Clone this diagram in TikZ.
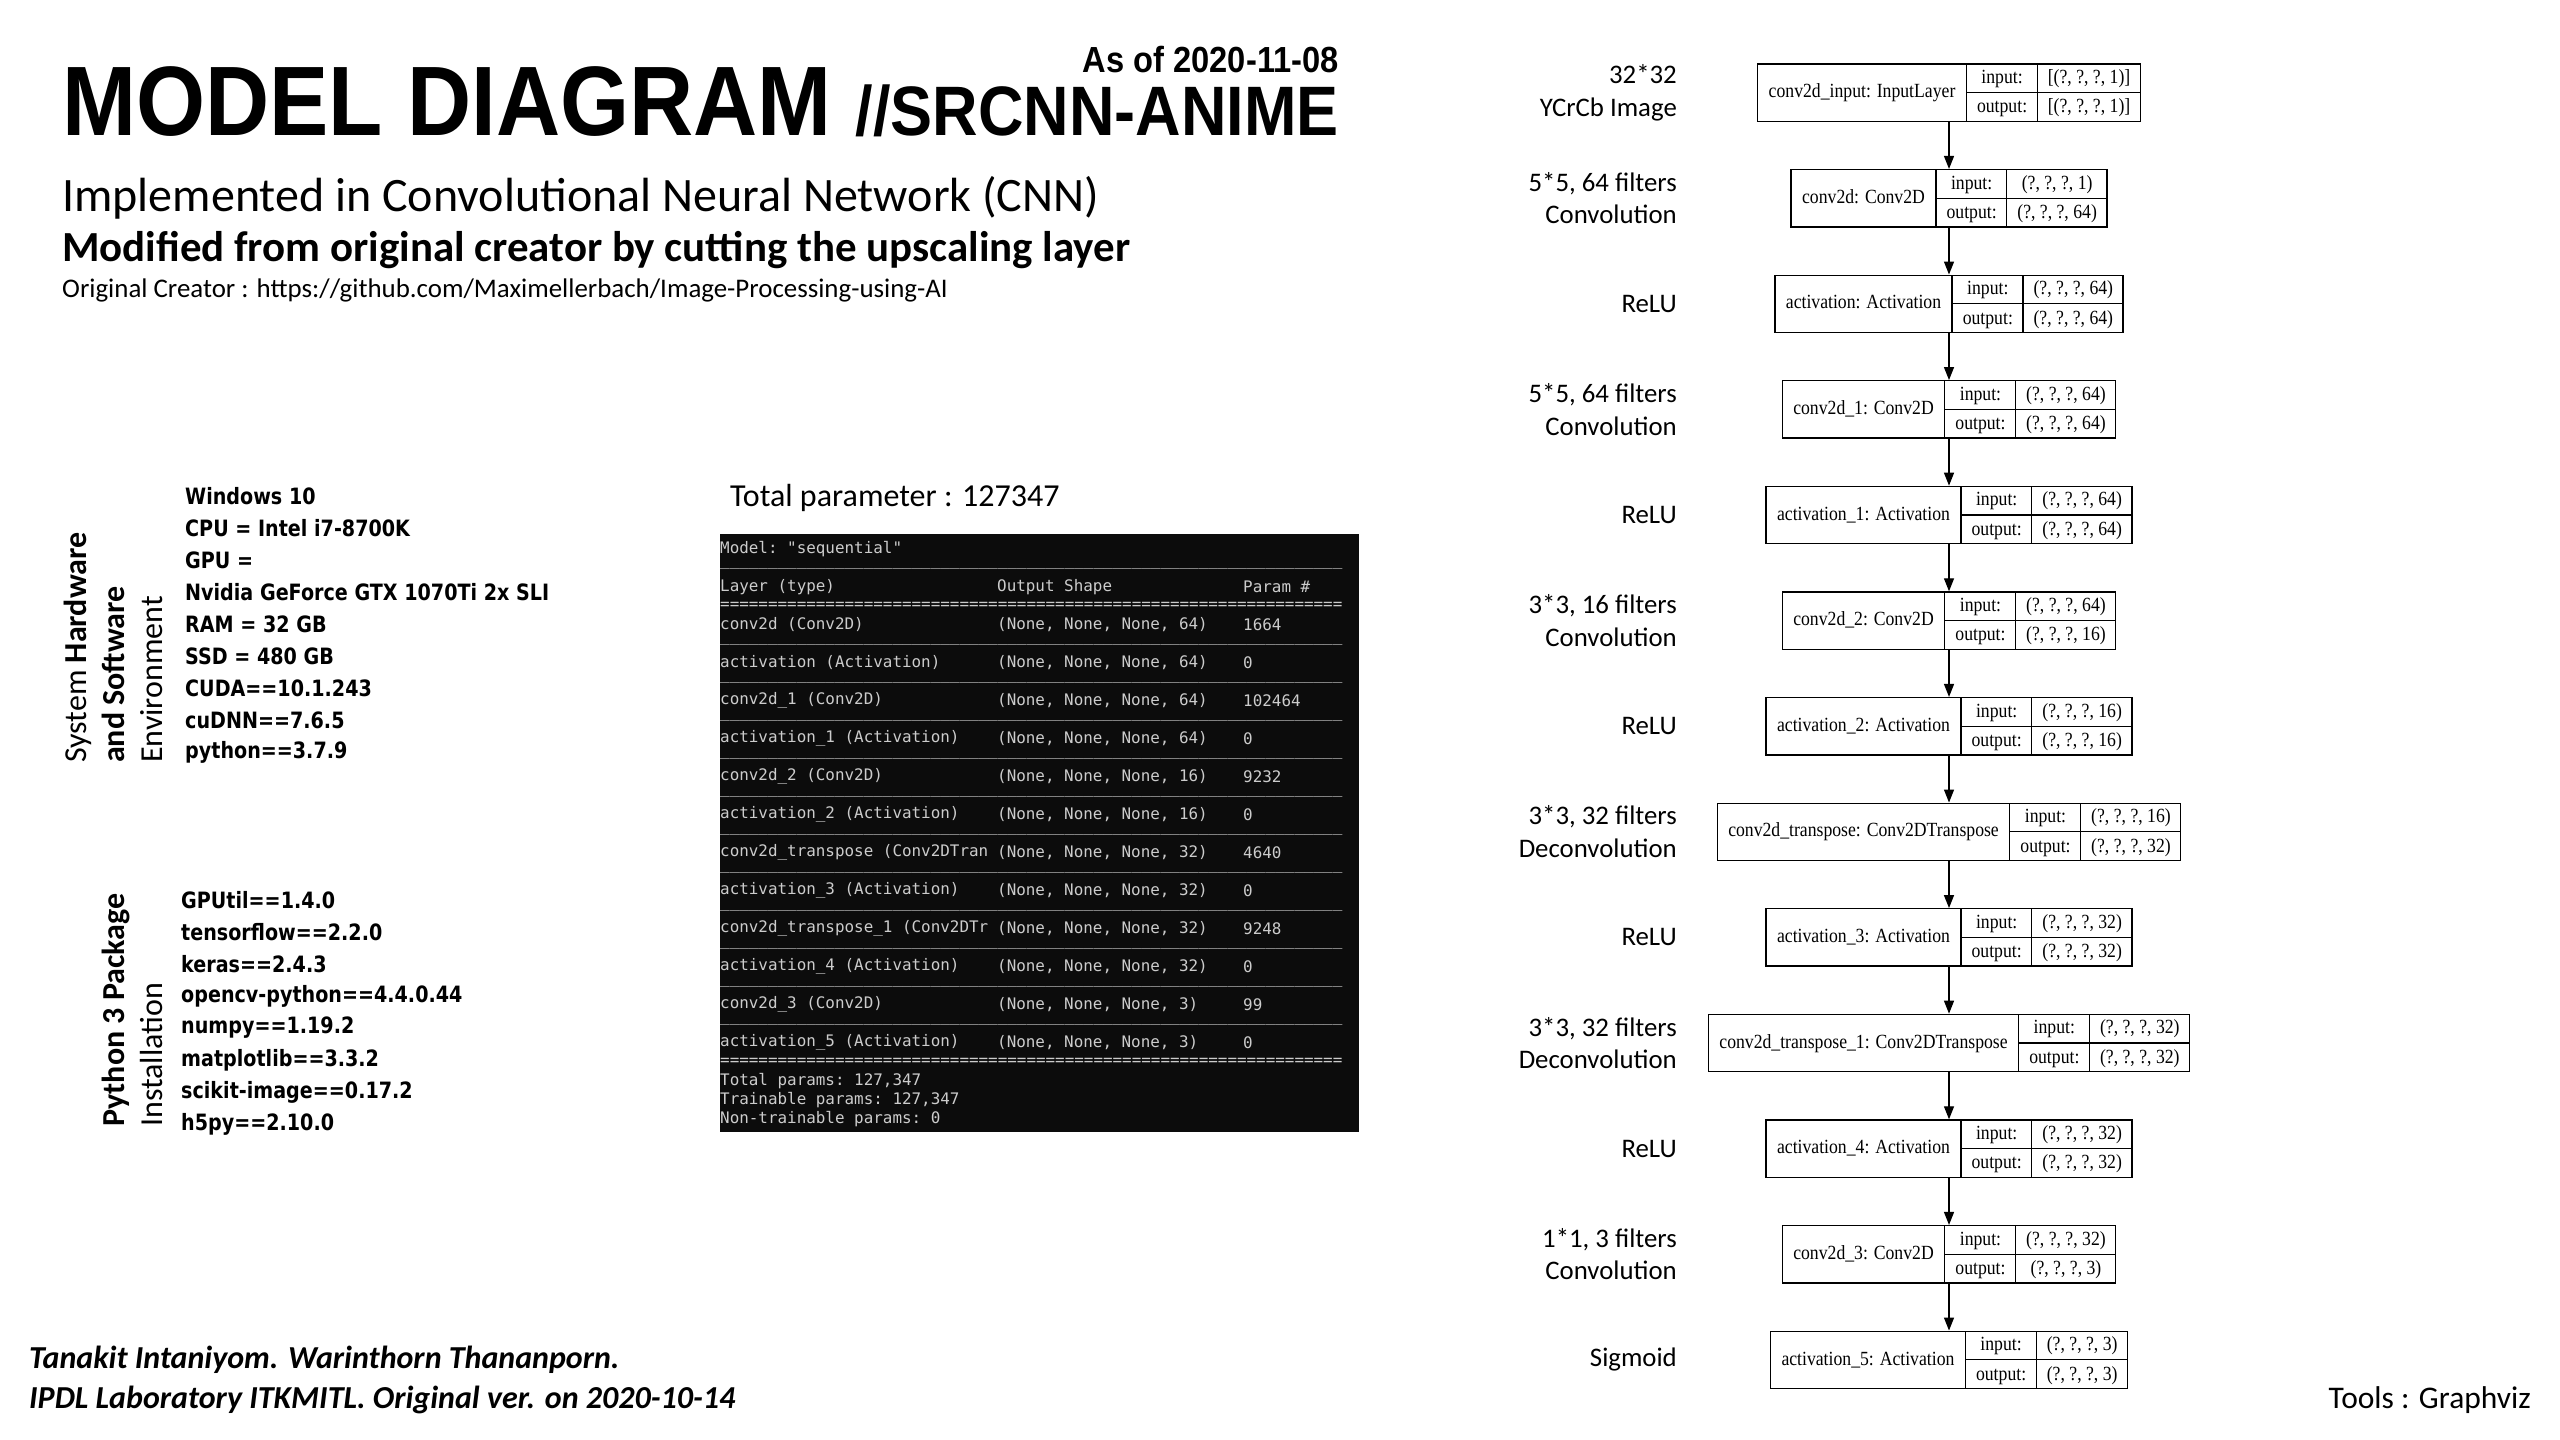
\documentclass[tikz,border=0pt]{standalone}
\usepackage{fontspec}
\setmainfont{Carlito}
\setmonofont{DejaVu Sans Mono}
\newfontfamily\titlefont[FakeStretch=0.9]{Liberation Sans}
\newfontfamily\listfont[FakeStretch=0.85]{DejaVu Sans}
\newfontfamily\graphfont[FakeStretch=0.88]{Liberation Serif}
\usetikzlibrary{arrows.meta,positioning}
\definecolor{termbg}{RGB}{12,12,12}
\definecolor{termfg}{RGB}{204,204,204}

% record-like box of a graphviz layer: label | input/output | shapes
\newcommand\layerrec[3]{%
  \setlength\tabcolsep{0pt}\setlength\arrayrulewidth{1.3pt}%
  \begin{tabular}{@{\hspace{11pt}}c@{\hspace{11pt}}|@{}c@{}}
    #1 & \begin{tabular}{@{\hspace{10pt}}c@{\hspace{10pt}}|@{\hspace{10pt}}c@{\hspace{10pt}}}
      input: & #2\\\hline
      output: & #3
    \end{tabular}
  \end{tabular}}
\newcommand\dashrow[1]{\foreach\n in {1,...,65}{#1}}

\begin{document}
\begin{tikzpicture}[x=1pt, y=-1pt, node distance=47pt,
    layerbox/.style={draw, line width=1.3pt, inner sep=0pt,
      font=\graphfont\fontsize{20.1}{28}\selectfont},
    flowarrow/.style={-{Triangle[length=13pt,width=10pt]}, line width=1.3pt},
    steplabel/.style={anchor=east, align=right, inner sep=0pt,
      font=\fontsize{26.8}{32.7}\selectfont},
    spec/.style={anchor=west, inner sep=0pt,
      font=\listfont\bfseries\fontsize{22.5}{32}\selectfont},
    termline/.style={anchor=west, inner sep=0pt, text=termfg,
      font=\ttfamily\fontsize{15.9}{19}\selectfont},
    sidehead/.style={rotate=90, anchor=west, align=left, inner sep=0pt,
      font=\fontsize{32}{38}\selectfont}]
  \useasboundingbox (0,0) rectangle (2560,1440);

  % heading
  \node[anchor=base west, inner sep=0pt, font=\titlefont\bfseries\fontsize{98.7}{100}\selectfont] (title) at (62,135) {MODEL DIAGRAM};
  \node[anchor=base east, inner sep=0pt, font=\titlefont\bfseries\fontsize{70}{72}\selectfont] (project) at (1339,135) {//SRCNN-ANIME};
  \node[anchor=base east, inner sep=0pt, font=\titlefont\bfseries\fontsize{36.3}{38}\selectfont] (asof) at (1339,72) {As of 2020-11-08};
  \node[anchor=base west, inner sep=0pt, font=\fontsize{48}{58}\selectfont] (impl) at (62,211) {Implemented in Convolutional Neural Network (CNN)};
  \node[anchor=base west, inner sep=0pt, font=\bfseries\fontsize{42.9}{50}\selectfont] (modif) at (62,261) {Modified from original creator by cutting the upscaling layer};
  \node[anchor=base west, inner sep=0pt, font=\fontsize{26.9}{30}\selectfont] (orig) at (62,297) {Original Creator : https://github.com/Maximellerbach/Image-Processing-using-AI};

  % environment
  \node[sidehead] (hwhead) at (113.5,763) {System \textbf{Hardware}\\\textbf{and Software}\\Environment};
  \foreach \s [count=\i from 0] in {Windows 10, CPU = Intel i7-8700K, GPU =, Nvidia GeForce GTX 1070Ti 2x SLI, RAM = 32 GB, SSD = 480 GB, CUDA==10.1.243, cuDNN==7.6.5, python==3.7.9}
    \node[spec] (hw-\i) at (185, {496+32*\i}) {\s};
  \node[sidehead] (pyhead) at (132.5,1127) {\textbf{Python 3 Package}\\Installation};
  \foreach \s [count=\i from 0] in {GPUtil==1.4.0, tensorflow==2.2.0, keras==2.4.3, opencv-python==4.4.0.44, numpy==1.19.2, matplotlib==3.3.2, scikit-image==0.17.2, h5py==2.10.0}
    \node[spec] (py-\i) at (181, {900+32*\i}) {\s};

  % model summary
  \node[anchor=west, inner sep=0pt, font=\fontsize{32}{38}\selectfont] (total) at (730,498) {Total parameter : 127347};
  \fill[termbg] (720,534) rectangle (1359,1132);
  \node[termline] (model) at (720,548.7) {Model: "sequential"};
  \node[termline] (rule-top) at (720,567.7) {\dashrow{\_}};
  \node[termline] (head-layer) at (720,586.7) {Layer (type)};
  \node[termline] (head-shape) at (997,586.7) {Output Shape};
  \node[termline] (head-param) at (1243,586.7) {Param \#};
  \node[termline] (rule-head) at (720,605.7) {\dashrow{=}};
  \foreach \lname/\lch/\lpar [count=\k from 0] in {conv2d (Conv2D)/64/1664, activation (Activation)/64/0, conv2d\_1 (Conv2D)/64/102464, activation\_1 (Activation)/64/0, conv2d\_2 (Conv2D)/16/9232, activation\_2 (Activation)/16/0, conv2d\_transpose (Conv2DTran/32/4640, activation\_3 (Activation)/32/0, conv2d\_transpose\_1 (Conv2DTr/32/9248, activation\_4 (Activation)/32/0, conv2d\_3 (Conv2D)/3/99, activation\_5 (Activation)/3/0}
  {
    \node[termline] (row-\k) at (720, {548.7+19*(4+2*\k)}) {\lname};
    \node[termline] (shape-\k) at (997, {548.7+19*(4+2*\k)}) {(None, None, None, \lch)};
    \node[termline] (par-\k) at (1243, {548.7+19*(4+2*\k)}) {\lpar};
  }
  \foreach \k in {0,...,10}
    \node[termline] (sep-\k) at (720, {548.7+19*(5+2*\k)}) {\dashrow{\_}};
  \node[termline] (rule-end) at (720,1061.7) {\dashrow{=}};
  \node[termline] (sum-total) at (720,1080.7) {Total params: 127,347};
  \node[termline] (sum-train) at (720,1099.7) {Trainable params: 127,347};
  \node[termline] (sum-fixed) at (720,1118.7) {Non-trainable params: 0};

  % graphviz plot of the layers
  \node[layerbox] (inp) at (1949,92.6) {\layerrec{conv2d\_input: InputLayer}{[(?, ?, ?, 1)]}{[(?, ?, ?, 1)]}};
  \node[layerbox, below=of inp] (conv) {\layerrec{conv2d: Conv2D}{(?, ?, ?, 1)}{(?, ?, ?, 64)}};
  \node[layerbox, below=of conv] (act) {\layerrec{activation: Activation}{(?, ?, ?, 64)}{(?, ?, ?, 64)}};
  \node[layerbox, below=of act] (conv1) {\layerrec{conv2d\_1: Conv2D}{(?, ?, ?, 64)}{(?, ?, ?, 64)}};
  \node[layerbox, below=of conv1] (act1) {\layerrec{activation\_1: Activation}{(?, ?, ?, 64)}{(?, ?, ?, 64)}};
  \node[layerbox, below=of act1] (conv2) {\layerrec{conv2d\_2: Conv2D}{(?, ?, ?, 64)}{(?, ?, ?, 16)}};
  \node[layerbox, below=of conv2] (act2) {\layerrec{activation\_2: Activation}{(?, ?, ?, 16)}{(?, ?, ?, 16)}};
  \node[layerbox, below=of act2] (deconv) {\layerrec{conv2d\_transpose: Conv2DTranspose}{(?, ?, ?, 16)}{(?, ?, ?, 32)}};
  \node[layerbox, below=of deconv] (act3) {\layerrec{activation\_3: Activation}{(?, ?, ?, 32)}{(?, ?, ?, 32)}};
  \node[layerbox, below=of act3] (deconv1) {\layerrec{conv2d\_transpose\_1: Conv2DTranspose}{(?, ?, ?, 32)}{(?, ?, ?, 32)}};
  \node[layerbox, below=of deconv1] (act4) {\layerrec{activation\_4: Activation}{(?, ?, ?, 32)}{(?, ?, ?, 32)}};
  \node[layerbox, below=of act4] (conv3) {\layerrec{conv2d\_3: Conv2D}{(?, ?, ?, 32)}{(?, ?, ?, 3)}};
  \node[layerbox, below=of conv3] (act5) {\layerrec{activation\_5: Activation}{(?, ?, ?, 3)}{(?, ?, ?, 3)}};
  \foreach \a/\b in {inp/conv, conv/act, act/conv1, conv1/act1, act1/conv2, conv2/act2, act2/deconv, deconv/act3, act3/deconv1, deconv1/act4, act4/conv3, conv3/act5}
    \draw[flowarrow] (\a) -- (\b);

  % what each layer does
  \coordinate (lcol) at (1677,0);
  \node[steplabel] (l-inp) at (inp -| lcol) {32*32\\YCrCb Image};
  \node[steplabel] (l-conv) at (conv -| lcol) {5*5, 64 filters\\Convolution};
  \node[steplabel] (l-act) at (act -| lcol) {ReLU};
  \node[steplabel] (l-conv1) at (conv1 -| lcol) {5*5, 64 filters\\Convolution};
  \node[steplabel] (l-act1) at (act1 -| lcol) {ReLU};
  \node[steplabel] (l-conv2) at (conv2 -| lcol) {3*3, 16 filters\\Convolution};
  \node[steplabel] (l-act2) at (act2 -| lcol) {ReLU};
  \node[steplabel] (l-deconv) at (deconv -| lcol) {3*3, 32 filters\\Deconvolution};
  \node[steplabel] (l-act3) at (act3 -| lcol) {ReLU};
  \node[steplabel] (l-deconv1) at (deconv1 -| lcol) {3*3, 32 filters\\Deconvolution};
  \node[steplabel] (l-act4) at (act4 -| lcol) {ReLU};
  \node[steplabel] (l-conv3) at (conv3 -| lcol) {1*1, 3 filters\\Convolution};
  \node[steplabel] (l-act5) at (act5 -| lcol) {Sigmoid};

  % footer
  \node[anchor=west, inner sep=0pt, font=\bfseries\itshape\fontsize{32}{38}\selectfont] (authors) at (29,1360) {Tanakit Intaniyom. Warinthorn Thananporn.};
  \node[anchor=west, inner sep=0pt, font=\bfseries\itshape\fontsize{32}{38}\selectfont] (lab) at (29,1400) {IPDL Laboratory ITKMITL. Original ver. on 2020-10-14};
  \node[anchor=east, inner sep=0pt, font=\fontsize{31.5}{38}\selectfont] (tools) at (2531,1400) {Tools : Graphviz};
\end{tikzpicture}
\end{document}
